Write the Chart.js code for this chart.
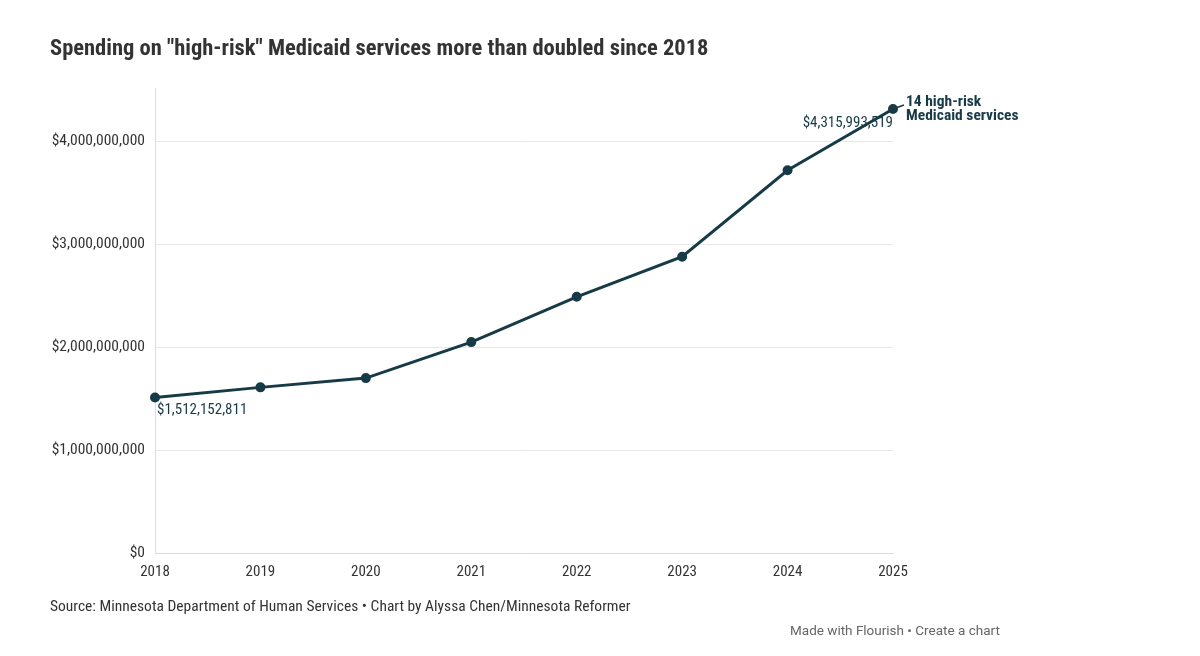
<!DOCTYPE html>
<html><head><meta charset="utf-8">
<script src="https://cdn.jsdelivr.net/npm/chart.js@4"></script>
<style>
body{margin:0;background:#fff;font-family:'Roboto Condensed','Liberation Sans Narrow',Roboto,sans-serif;}
#wrap{position:absolute;left:0;top:0;width:1200px;height:656px;}
.title{position:absolute;left:50px;top:34px;font-size:22.5px;font-weight:bold;color:#333;}
.src{position:absolute;left:50px;top:597px;font-size:15.5px;color:#333;}
.fl{position:absolute;left:790px;top:622px;font-size:13.5px;color:#666;font-family:Roboto,sans-serif;}
</style></head><body>
<div id="wrap"><canvas id="c"></canvas></div>
<div class="title">Spending on "high-risk" Medicaid services more than doubled since 2018</div>
<div class="src">Source: Minnesota Department of Human Services • Chart by Alyssa Chen/Minnesota Reformer</div>
<div class="fl">Made with Flourish • Create a chart</div>
<script>
const years = ['2018','2019','2020','2021','2022','2023','2024','2025'];
const spending = [1512152811, 1610000000, 1700000000, 2050000000, 2490000000, 2880000000, 3720000000, 4315993519];
const yTicks = [0, 1000000000, 2000000000, 3000000000, 4000000000];
const seriesName = ['14 high-risk', 'Medicaid services'];
const FONT = "'Roboto Condensed','Liberation Sans Narrow',Roboto,sans-serif";
const C = '#173a47';

const labelsPlugin = {
    id: 'labels',
    afterDatasetsDraw(chart) {
        const ctx = chart.ctx;
        const meta = chart.getDatasetMeta(0);
        const first = meta.data[0], last = meta.data[meta.data.length - 1];
        const fmt = v => '$' + v.toLocaleString('en-US');
        ctx.save();
        ctx.font = '15px ' + FONT;
        ctx.fillStyle = C;
        ctx.textBaseline = 'middle';
        ctx.textAlign = 'left';
        ctx.fillText(fmt(spending[0]), first.x + 2, first.y + 13);
        ctx.textAlign = 'right';
        ctx.fillText(fmt(spending[spending.length - 1]), last.x, last.y + 14);
        ctx.font = 'bold 15.5px ' + FONT;
        ctx.textAlign = 'left';
        ctx.fillText(seriesName[0], last.x + 13, last.y - 7);
        ctx.fillText(seriesName[1], last.x + 13, last.y + 7);
        ctx.strokeStyle = C;
        ctx.lineWidth = 1.5;
        ctx.beginPath();
        ctx.moveTo(last.x, last.y);
        ctx.lineTo(last.x + 11, last.y - 4);
        ctx.stroke();
        ctx.restore();
    }
};

new Chart(document.getElementById('c'), {
    type: 'line',
    data: {
        labels: years,
        datasets: [{
            data: spending,
            borderColor: C,
            backgroundColor: C,
            borderWidth: 3,
            pointRadius: 3.5,
            tension: 0
        }]
    },
    options: {
        responsive: true,
        maintainAspectRatio: false,
        animation: false,
        layout: { padding: { top: 88, right: 307, left: 0, bottom: 0 } },
        plugins: { legend: { display: false }, tooltip: { enabled: false } },
        scales: {
            x: {
                offset: false,
                grid: { display: false },
                border: { color: '#dddddd' },
                ticks: { color: '#333', font: { family: FONT, size: 15 }, padding: 2, maxRotation: 0 },
                afterFit: s => { s.height = 103; }
            },
            y: {
                min: 0, max: 4520000000,
                afterBuildTicks: s => { s.ticks = yTicks.map(v => ({ value: v })); },
                grid: { color: '#e8e8e8', drawTicks: false },
                border: { color: '#dddddd' },
                ticks: {
                    color: '#333', font: { family: FONT, size: 15.5 }, padding: 10,
                    callback: v => '$' + v.toLocaleString('en-US')
                },
                afterFit: s => { s.width = 155; }
            }
        }
    },
    plugins: [labelsPlugin]
});
</script>
</body></html>
